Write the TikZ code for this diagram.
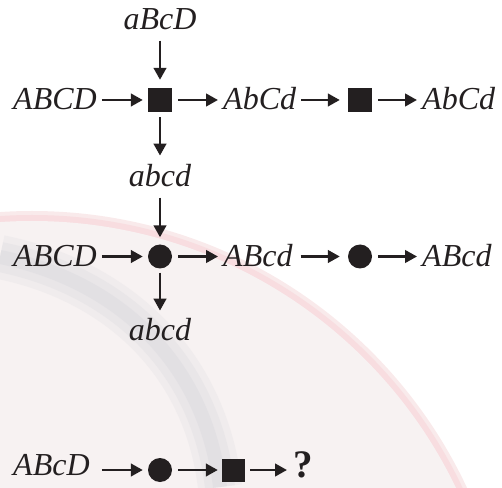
\documentclass[tikz,border=0pt]{standalone}
\usepackage{fontspec}
\setmainfont{Liberation Serif}
\usetikzlibrary{arrows.meta}
\definecolor{ink}{HTML}{231F20}
\definecolor{bgfill}{HTML}{F7F2F2}
\definecolor{rimcol}{HTML}{F8DDE0}
\definecolor{rimsoft}{HTML}{F9EAEB}
\definecolor{shadegray}{HTML}{DCDBE0}
\newcommand\lblfont{\fontsize{32}{38}\selectfont\itshape}
\tikzset{
  lbl/.style={font=\lblfont, inner sep=0pt, text=ink},
  sqbox/.style={fill=ink, minimum size=24pt, inner sep=0pt},
  dotbox/.style={circle, fill=ink, minimum size=24pt, inner sep=0pt},
  arr/.style={draw=ink, line width=2.7pt, -{Triangle[length=12pt,width=12.5pt]}},
}
\begin{document}
\begin{tikzpicture}[x=1pt,y=1pt]
\useasboundingbox (0,0) rectangle (502,487);
% faint background watermark
\begin{scope}
\clip (0,0) rectangle (502,487);
\fill[rimsoft] (32,-204) circle (480);
\fill[rimcol] (32,-204) circle (476);
\fill[bgfill] (32,-204) circle (470);
\draw[draw=shadegray, line width=44pt, opacity=0.25] (0,230) .. controls (115,207) and (205,127) .. (220,0);
\draw[draw=shadegray, line width=30pt, opacity=0.35] (0,230) .. controls (115,207) and (205,127) .. (220,0);
\draw[draw=shadegray, line width=14pt, opacity=0.5] (0,230) .. controls (115,207) and (205,127) .. (220,0);
\end{scope}
% row 1
\node[lbl, anchor=base west] (t1) at (13,377) {ABCD};
\node[sqbox] (s1) at (160,387) {};
\node[lbl, anchor=base west] (t2) at (223,377) {AbCd};
\node[sqbox] (s2) at (360,387) {};
\node[lbl, anchor=base west] (t3) at (422,377) {AbCd};
\node[lbl, anchor=base] (top) at (160,457) {aBcD};
\node[lbl, anchor=base] (a1) at (160,300) {abcd};
% row 2
\node[lbl, anchor=base west] (t4) at (13,220) {ABCD};
\node[dotbox] (c1) at (160,230.5) {};
\node[lbl, anchor=base west] (t5) at (223,220) {ABcd};
\node[dotbox] (c2) at (360,230.5) {};
\node[lbl, anchor=base west] (t6) at (422,220) {ABcd};
\node[lbl, anchor=base] (a2) at (160,147) {abcd};
% row 3
\node[lbl, anchor=base west] (t7) at (13,12) {ABcD};
\node[dotbox] (c3) at (160,17) {};
\node[sqbox, minimum size=23pt] (s3) at (233.5,17) {};
\node[lbl, anchor=base west, font=\fontsize{39}{44}\selectfont\bfseries] (q) at (293,10) {?};
% arrows row 1
\draw[arr, shorten <=5pt, shorten >=5pt] (t1.east |- s1) -- (s1.west);
\draw[arr, shorten <=6pt, shorten >=5pt] (s1.east) -- (t2.west |- s1);
\draw[arr, shorten <=5pt, shorten >=8pt] (t2.east |- s2) -- (s2.west);
\draw[arr, shorten <=6pt, shorten >=5pt] (s2.east) -- (t3.west |- s2);
\draw[arr, shorten <=10pt, shorten >=8pt] (top.south) -- (s1.north);
\draw[arr, shorten <=5pt, shorten >=9pt] (s1.south) -- (a1.north);
\draw[arr, shorten <=10pt, shorten >=7pt] (a1.south) -- (c1.north);
% arrows row 2
\draw[arr, shorten <=5pt, shorten >=5pt] (t4.east |- c1) -- (c1.west);
\draw[arr, shorten <=6pt, shorten >=5pt] (c1.east) -- (t5.west |- c1);
\draw[arr, shorten <=8pt, shorten >=8pt] (t5.east |- c2) -- (c2.west);
\draw[arr, shorten <=6pt, shorten >=5pt] (c2.east) -- (t6.west |- c2);
\draw[arr, shorten <=4pt, shorten >=7pt] (c1.south) -- (a2.north);
% arrows row 3
\draw[arr, shorten <=12pt, shorten >=5pt] (t7.east |- c3) -- (c3.west);
\draw[arr, shorten <=6pt, shorten >=4pt] (c3.east) -- (s3.west);
\draw[arr, shorten <=5pt, shorten >=6pt] (s3.east) -- (q.west |- s3);
\end{tikzpicture}
\end{document}
